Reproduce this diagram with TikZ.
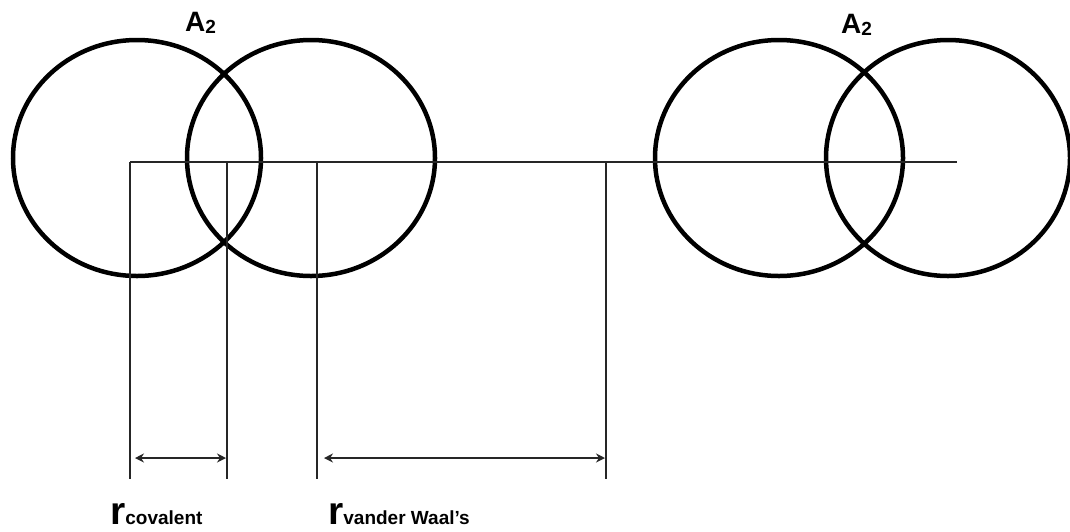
\documentclass[tikz,border=0pt]{standalone}
\usepackage{fontspec}
\setmainfont{Liberation Sans}
\usetikzlibrary{arrows.meta}
\tikzset{
  atom/.style={draw=black, line width=4.5pt},
  guide/.style={draw=black!85, line width=2pt},
  dim/.style={draw=black!85, line width=2pt, {Stealth[length=9pt,width=9pt]}-{Stealth[length=9pt,width=9pt]}},
  lbl/.style={inner sep=0pt, font=\bfseries},
}
\newcommand{\myBigR}{{\fontsize{39}{39}\selectfont r}}
\newcommand{\mySmallTxt}[1]{{\fontsize{19}{19}\selectfont #1}}
\newcommand{\myAtwo}{{\fontsize{28}{28}\selectfont A}{\fontsize{19}{19}\selectfont\raisebox{-2pt}{2}}}
\begin{document}
\begin{tikzpicture}[x=1pt,y=-1pt]
\useasboundingbox (0,0) rectangle (1070,531);
% atoms
\draw[atom] (137,158) ellipse [x radius=124, y radius=118];
\draw[atom] (311,158) ellipse [x radius=124, y radius=118];
\draw[atom] (779,158) ellipse [x radius=124, y radius=118];
\draw[atom] (948,158) ellipse [x radius=122, y radius=118];
% coordinates
\coordinate (h0) at (130,162);
\coordinate (h1) at (957,162);
\coordinate (t1) at (130,162); \coordinate (b1) at (130,479);
\coordinate (t2) at (227,162); \coordinate (b2) at (227,479);
\coordinate (t3) at (317,162); \coordinate (b3) at (317,479);
\coordinate (t4) at (606,162); \coordinate (b4) at (606,479);
\coordinate (a1) at (130,458); \coordinate (a2) at (227,458);
\coordinate (a3) at (317,458); \coordinate (a4) at (606,458);
% guide lines
\draw[guide] (h0) -- (h1);
\draw[guide] (t1) -- (b1);
\draw[guide] (t2) -- (b2);
\draw[guide] (t3) -- (b3);
\draw[guide] (t4) -- (b4);
% dimension arrows
\draw[dim, shorten <=5pt, shorten >=1pt] (a1) -- (a2);
\draw[dim, shorten <=7pt, shorten >=1pt] (a3) -- (a4);
% labels
\node[lbl, anchor=base west] (A1) at (185,31) {\myAtwo};
\node[lbl, anchor=base west] (A2) at (841,33) {\myAtwo};
\node[lbl, anchor=base west] (rc) at (110,524) {\myBigR\mySmallTxt{covalent}};
\node[lbl, anchor=base west] (rv) at (328,524) {\myBigR\mySmallTxt{vander Waal's}};
\end{tikzpicture}
\end{document}
